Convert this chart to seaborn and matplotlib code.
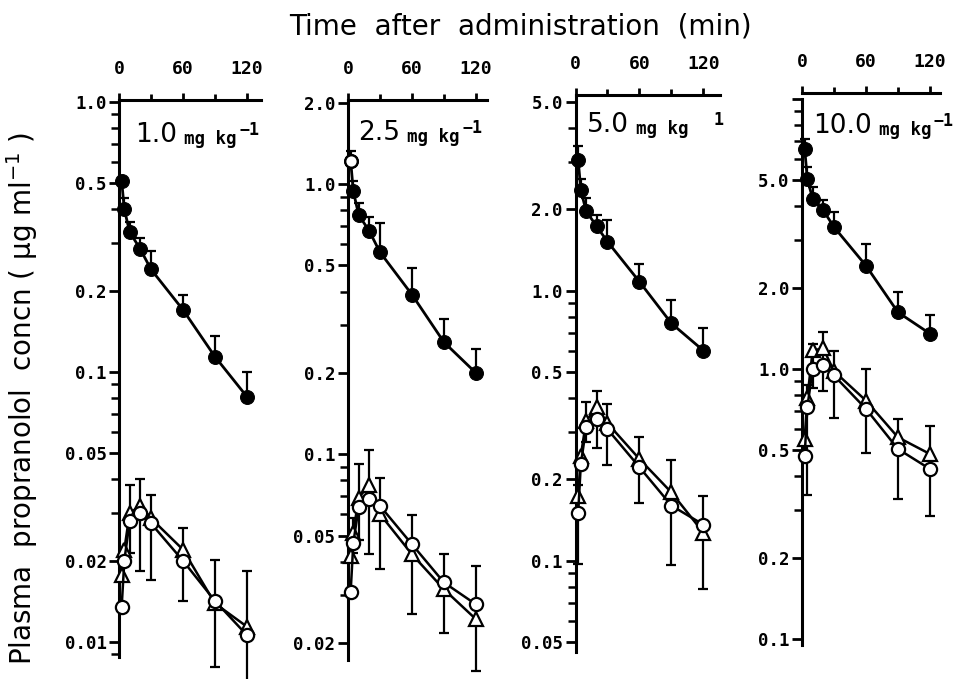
import numpy as np
import pandas as pd
import matplotlib
matplotlib.use("Agg")
import matplotlib.pyplot as plt
import seaborn as sns
from matplotlib.ticker import FixedLocator, NullFormatter, LogLocator

# ---------------- data ----------------
times = [2.5, 5, 10, 20, 30, 60, 90, 120]
doses = ["1.0", "2.5", "5.0", "10.0"]
dose_sup = ["\u22121", "\u22121", "1", "\u22121"]

filled_1 = [0.51, 0.40, 0.33, 0.285, 0.24, 0.17, 0.114, 0.081]
filled_top_1 = [np.nan, 0.44, 0.36, 0.314, 0.28, 0.193, 0.136, 0.10]
circle_1 = [0.0135, 0.020, 0.028, 0.030, 0.0275, 0.020, 0.0142, 0.0106]
triangle_1 = [0.0177, 0.022, 0.030, 0.032, 0.0287, 0.022, 0.0139, 0.0114]
open_lo_1 = [np.nan, np.nan, 0.0214, 0.0183, 0.0170, 0.0142, 0.0081, 0.0070]
open_hi_1 = [np.nan, np.nan, 0.038, 0.040, 0.035, 0.0265, 0.0202, 0.0183]

filled_2 = [1.22, 0.94, 0.77, 0.67, 0.56, 0.39, 0.26, 0.20]
filled_top_2 = [1.33, 1.03, 0.855, 0.753, 0.717, 0.491, 0.318, 0.245]
circle_2 = [0.031, 0.047, 0.0635, 0.0685, 0.0644, 0.0464, 0.0335, 0.0278]
triangle_2 = [0.042, 0.0513, 0.069, 0.077, 0.060, 0.0426, 0.0316, 0.0245]
open_lo_2 = [np.nan, 0.043, 0.048, 0.0426, 0.0377, 0.0256, 0.0217, 0.0157]
open_hi_2 = [np.nan, 0.058, 0.092, 0.104, 0.0819, 0.0594, 0.0426, 0.0385]

filled_3 = [3.05, 2.36, 1.97, 1.73, 1.52, 1.08, 0.757, 0.60]
filled_top_3 = [3.44, 2.59, 2.21, 1.91, 1.83, 1.26, 0.924, 0.728]
circle_3 = [0.150, 0.228, 0.312, 0.335, 0.307, 0.222, 0.160, 0.136]
triangle_3 = [0.173, 0.245, 0.330, 0.370, 0.323, 0.238, 0.179, 0.127]
open_lo_3 = [0.097, np.nan, 0.275, 0.262, 0.227, 0.163, 0.096, 0.0785]
open_hi_3 = [0.19, np.nan, 0.386, 0.424, 0.380, 0.288, 0.236, 0.174]

filled_4 = [6.53, 5.05, 4.26, 3.86, 3.35, 2.41, 1.62, 1.35]
filled_top_4 = [7.1, 5.6, 4.7, 4.2, 3.8, 2.90, 1.92, 1.58]
circle_4 = [0.477, 0.72, 1.0, 1.03, 0.945, 0.711, 0.505, 0.426]
triangle_4 = [0.551, 0.78, 1.17, 1.19, 0.98, 0.763, 0.558, 0.484]
open_lo_4 = [np.nan, 0.34, 0.85, 0.83, 0.66, 0.487, 0.33, 0.285]
open_hi_4 = [np.nan, 0.87, 1.24, 1.37, 1.16, 1.0, 0.653, 0.617]

yticks_1 = [0.01, 0.02, 0.05, 0.1, 0.2, 0.5, 1.0]
ylabels_1 = ["0.01", "0.02", "0.05", "0.1", "0.2", "0.5", "1.0"]
yticks_2 = [0.02, 0.05, 0.1, 0.2, 0.5, 1.0, 2.0]
ylabels_2 = ["0.02", "0.05", "0.1", "0.2", "0.5", "1.0", "2.0"]
yticks_3 = [0.05, 0.1, 0.2, 0.5, 1.0, 2.0, 5.0]
ylabels_3 = ["0.05", "0.1", "0.2", "0.5", "1.0", "2.0", "5.0"]
yticks_4 = [0.1, 0.2, 0.5, 1.0, 2.0, 5.0, 10.0]
ylabels_4 = ["0.1", "0.2", "0.5", "1.0", "2.0", "5.0", ""]
xticks = [0, 60, 120]
xticklabels = ["0", "60", "120"]
xminor = [30, 90]

filled_all = [filled_1, filled_2, filled_3, filled_4]
filled_top_all = [filled_top_1, filled_top_2, filled_top_3, filled_top_4]
circle_all = [circle_1, circle_2, circle_3, circle_4]
triangle_all = [triangle_1, triangle_2, triangle_3, triangle_4]
open_lo_all = [open_lo_1, open_lo_2, open_lo_3, open_lo_4]
open_hi_all = [open_hi_1, open_hi_2, open_hi_3, open_hi_4]
yticks_all = [yticks_1, yticks_2, yticks_3, yticks_4]
ylabels_all = [ylabels_1, ylabels_2, ylabels_3, ylabels_4]

# ---------------- layout / style ----------------
sns.set_style("ticks")
plt.rcParams['font.family'] = ['DejaVu Sans']
plt.rcParams['mathtext.fontset'] = 'dejavusans'
plt.rcParams['text.color'] = 'black'
plt.rcParams['axes.labelcolor'] = 'black'
plt.rcParams['xtick.color'] = 'black'
plt.rcParams['ytick.color'] = 'black'
plt.rcParams['axes.edgecolor'] = 'black'

FW, FH = 961, 679
fig = plt.figure(figsize=(FW / 100, FH / 100), dpi=100)

# left px, top px, bottom px, width px, ylim, spine top
layout = [
    (119, 100, 657, 142, (0.0088, 1.017), 1.017),
    (348, 100, 660, 139, (0.0173, 2.05), 2.05),
    (575.5, 95, 652, 144, (0.0459, 5.31), 5.31),
    (802, 93, 645, 138, (0.0950, 10.5), 10.0),
]
PX_PER_MIN = 1.066
hollow_first = [False, True, False, False]

# label positions (px): number left, baseline
label_pos = [(135, 142), (358, 140), (587, 132), (813, 133)]
sup_gap = [2, 2, 18, 2]

mono = 'DejaVu Sans Mono'
LW_SPINE = 2.2

for i in range(4):
    L, T, B, Wd, ylim, ytop = layout[i]
    ax = fig.add_axes([L / FW, 1 - B / FH, Wd / FW, (B - T) / FH])
    ax.set_yscale('log')
    ax.set_xlim(0, Wd / PX_PER_MIN)
    ax.set_ylim(*ylim)
    ax.patch.set_alpha(0)

    # error bars
    ft = np.array(filled_top_all[i], dtype=float)
    fv = np.array(filled_all[i], dtype=float)
    eb = ax.errorbar(times, fv, yerr=[np.zeros(len(fv)), ft - fv], fmt='none',
                     ecolor='k', elinewidth=1.6, capsize=3.5, capthick=1.6, zorder=1)
    lo = np.array(open_lo_all[i], dtype=float)
    hi = np.array(open_hi_all[i], dtype=float)
    eb2 = ax.errorbar(times, lo, yerr=[np.zeros(len(lo)), hi - lo], fmt='none',
                      ecolor='k', elinewidth=1.6, capsize=3.5, capthick=1.6, zorder=1)
    for c in (eb, eb2):
        for art in list(c.lines[1]) + list(c.lines[2]):
            art.set_clip_on(False)

    df_f = pd.DataFrame({'t': times, 'c': filled_all[i]})
    df_c = pd.DataFrame({'t': times, 'c': circle_all[i]})
    df_t = pd.DataFrame({'t': times, 'c': triangle_all[i]})

    sns.lineplot(data=df_t, x='t', y='c', ax=ax, color='k', lw=1.8, marker='^',
                 markersize=10, markerfacecolor='white', markeredgecolor='k',
                 markeredgewidth=1.6, clip_on=False, zorder=3)
    sns.lineplot(data=df_c, x='t', y='c', ax=ax, color='k', lw=1.8, marker='o',
                 markersize=9.5, markerfacecolor='white', markeredgecolor='k',
                 markeredgewidth=1.6, clip_on=False, zorder=4)
    sns.lineplot(data=df_f, x='t', y='c', ax=ax, color='k', lw=2.0, marker='o',
                 markersize=10, markerfacecolor='k', markeredgecolor='k',
                 clip_on=False, zorder=5)
    if hollow_first[i]:
        sns.scatterplot(x=[times[0]], y=[filled_all[i][0]], ax=ax, s=80,
                        facecolor='white', edgecolor='k', linewidth=1.6,
                        zorder=6, clip_on=False)

    # axes styling
    ax.set_xlabel('')
    ax.set_ylabel('')
    for s in ['right', 'bottom']:
        ax.spines[s].set_visible(False)
    for s in ['left', 'top']:
        ax.spines[s].set_linewidth(LW_SPINE)
        ax.spines[s].set_color('k')
    ax.spines['left'].set_bounds(ylim[0], ytop)

    ax.xaxis.tick_top()
    ax.set_xticks(xticks)
    ax.set_xticklabels(xticklabels, fontfamily=mono, fontsize=13, fontweight='bold',
                       color='k')
    ax.xaxis.set_minor_locator(FixedLocator(xminor))
    ax.tick_params(axis='x', which='major', top=True, bottom=False, length=5,
                   width=2, pad=11, color='k')
    ax.tick_params(axis='x', which='minor', top=True, bottom=False, length=4,
                   width=2, color='k')

    ax.yaxis.set_major_locator(FixedLocator(yticks_all[i]))
    ax.set_yticklabels(ylabels_all[i], fontfamily=mono, fontsize=12.5, fontweight='bold',
                       color='k')
    ax.yaxis.set_minor_locator(LogLocator(base=10, subs=(3, 4, 6, 7, 8, 9)))
    ax.yaxis.set_minor_formatter(NullFormatter())
    ax.tick_params(axis='y', which='major', length=7, width=2, pad=2, color='k')
    ax.tick_params(axis='y', which='minor', length=5.5, width=1.8, color='k')

    # dose label
    nx, ny = label_pos[i]
    num = fig.text(nx / FW, 1 - ny / FH, doses[i], fontsize=19, va='baseline',
                   ha='left', family='DejaVu Sans', color='k')
    unit = ax.annotate("mg kg", xy=(1, 0), xycoords=num, xytext=(5, 0),
                       textcoords='offset points', va='bottom', ha='left',
                       fontsize=12.5, fontweight='bold', family=mono, color='k',
                       annotation_clip=False)
    ax.annotate(dose_sup[i], xy=(1, 1), xycoords=unit, xytext=(sup_gap[i], 0),
                textcoords='offset points', va='center', ha='left',
                fontsize=12, fontweight='bold', family=mono, color='k',
                annotation_clip=False)

fig.text(520 / FW, 1 - 27 / FH, "Time  after  administration  (min)",
         ha='center', va='center', fontsize=20, family='DejaVu Sans', color='k')
fig.text(22 / FW, 1 - 398 / FH, "Plasma  propranolol  concn ( \u03bcg ml$^{-1}$ )",
         ha='center', va='center', rotation=90, fontsize=20, family='DejaVu Sans',
         color='k')

fig.savefig("out.png", dpi=100)
